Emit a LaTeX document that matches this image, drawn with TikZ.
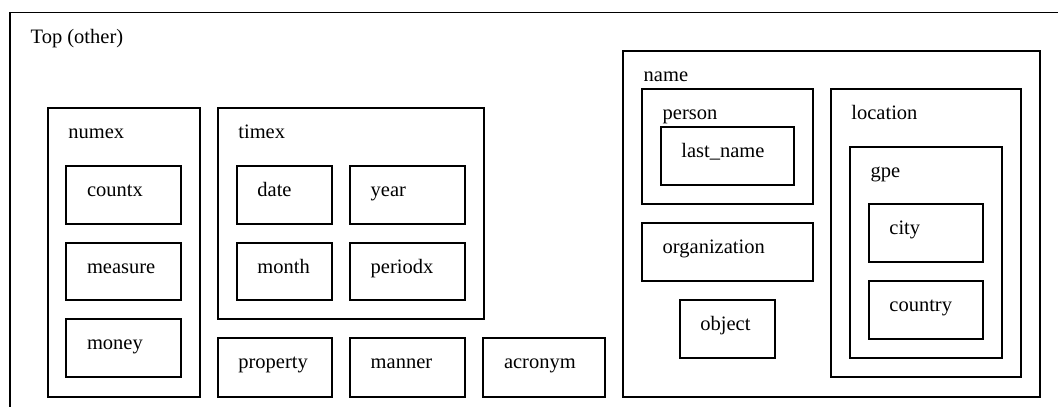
\documentclass[tikz,border=0pt]{standalone}
\usepackage{fontspec}
\setmainfont{Liberation Serif}
\usepackage{tikz}
\usetikzlibrary{positioning}

\tikzset{
  tagbox/.style={draw=black, line width=1.8pt, rectangle, anchor=north west,
                 inner sep=0pt, outer sep=0pt},
  taglabel/.style={anchor=base west, inner sep=0pt, xshift=20.5pt, yshift=-30.5pt,
                   font=\fontsize{20.5}{24}\selectfont},
}

\begin{document}
\begin{tikzpicture}[x=1pt, y=-1pt]
  \useasboundingbox (0,0) rectangle (1058,407);
  \clip (0,0) rectangle (1058,407);
  % outer frame, cut off at the right and the bottom
  \node[tagbox, minimum width=1060pt, minimum height=410pt,
        label={[taglabel]north west:Top (other)}] (top) at (10,12.5) {};

  % numex column
  \node[tagbox, minimum width=152pt, minimum height=288.7pt,
        label={[taglabel]north west:numex}] (numex) at (47.7,108) {};
  \node[tagbox, minimum width=114.4pt, minimum height=58pt,
        label={[taglabel]north west:countx}] (countx) at (66.3,165.7) {};
  \node[tagbox, minimum width=114.4pt, minimum height=57.5pt,
        label={[taglabel]north west:measure}] (measure) at (66.3,242.7) {};
  \node[tagbox, minimum width=114.4pt, minimum height=58pt,
        label={[taglabel]north west:money}] (money) at (66.3,319.3) {};

  % timex block
  \node[tagbox, minimum width=266pt, minimum height=211.3pt,
        label={[taglabel]north west:timex}] (timex) at (217.7,108) {};
  \node[tagbox, minimum width=95.6pt, minimum height=58pt,
        label={[taglabel]north west:date}] (date) at (236.7,165.7) {};
  \node[tagbox, minimum width=114.7pt, minimum height=58pt,
        label={[taglabel]north west:year}] (year) at (350,165.7) {};
  \node[tagbox, minimum width=95.6pt, minimum height=57.5pt,
        label={[taglabel]north west:month}] (month) at (236.7,242.7) {};
  \node[tagbox, minimum width=114.7pt, minimum height=57.5pt,
        label={[taglabel]north west:periodx}] (periodx) at (350,242.7) {};

  % bottom row
  \node[tagbox, minimum width=114.6pt, minimum height=58.4pt,
        label={[taglabel]north west:property}] (property) at (217.7,338.3) {};
  \node[tagbox, minimum width=114.7pt, minimum height=58.4pt,
        label={[taglabel]north west:manner}] (manner) at (350,338.3) {};
  \node[tagbox, minimum width=121.4pt, minimum height=58.4pt,
        label={[taglabel]north west:acronym}] (acronym) at (483.3,338.3) {};

  % name block
  \node[tagbox, minimum width=417pt, minimum height=346pt,
        label={[taglabel]north west:name}] (name) at (623,50.7) {};
  \node[tagbox, minimum width=171pt, minimum height=114.7pt,
        label={[taglabel]north west:person}] (person) at (642,89.3) {};
  \node[tagbox, minimum width=133.3pt, minimum height=58pt,
        label={[taglabel]north west:last\_name}] (lastname) at (660.7,127.3) {};
  \node[tagbox, minimum width=171pt, minimum height=57.7pt,
        label={[taglabel]north west:organization}] (organization) at (642,223.3) {};
  \node[tagbox, minimum width=95.3pt, minimum height=58pt,
        label={[taglabel]north west:object}] (object) at (679.7,300) {};
  \node[tagbox, minimum width=190.6pt, minimum height=287.4pt,
        label={[taglabel]north west:location}] (location) at (830.7,89.3) {};
  \node[tagbox, minimum width=152pt, minimum height=211.3pt,
        label={[taglabel]north west:gpe}] (gpe) at (850,146.7) {};
  \node[tagbox, minimum width=114.6pt, minimum height=57.7pt,
        label={[taglabel]north west:city}] (city) at (868.7,204.3) {};
  \node[tagbox, minimum width=114.6pt, minimum height=58pt,
        label={[taglabel]north west:country}] (country) at (868.7,280.7) {};
\end{tikzpicture}
\end{document}
